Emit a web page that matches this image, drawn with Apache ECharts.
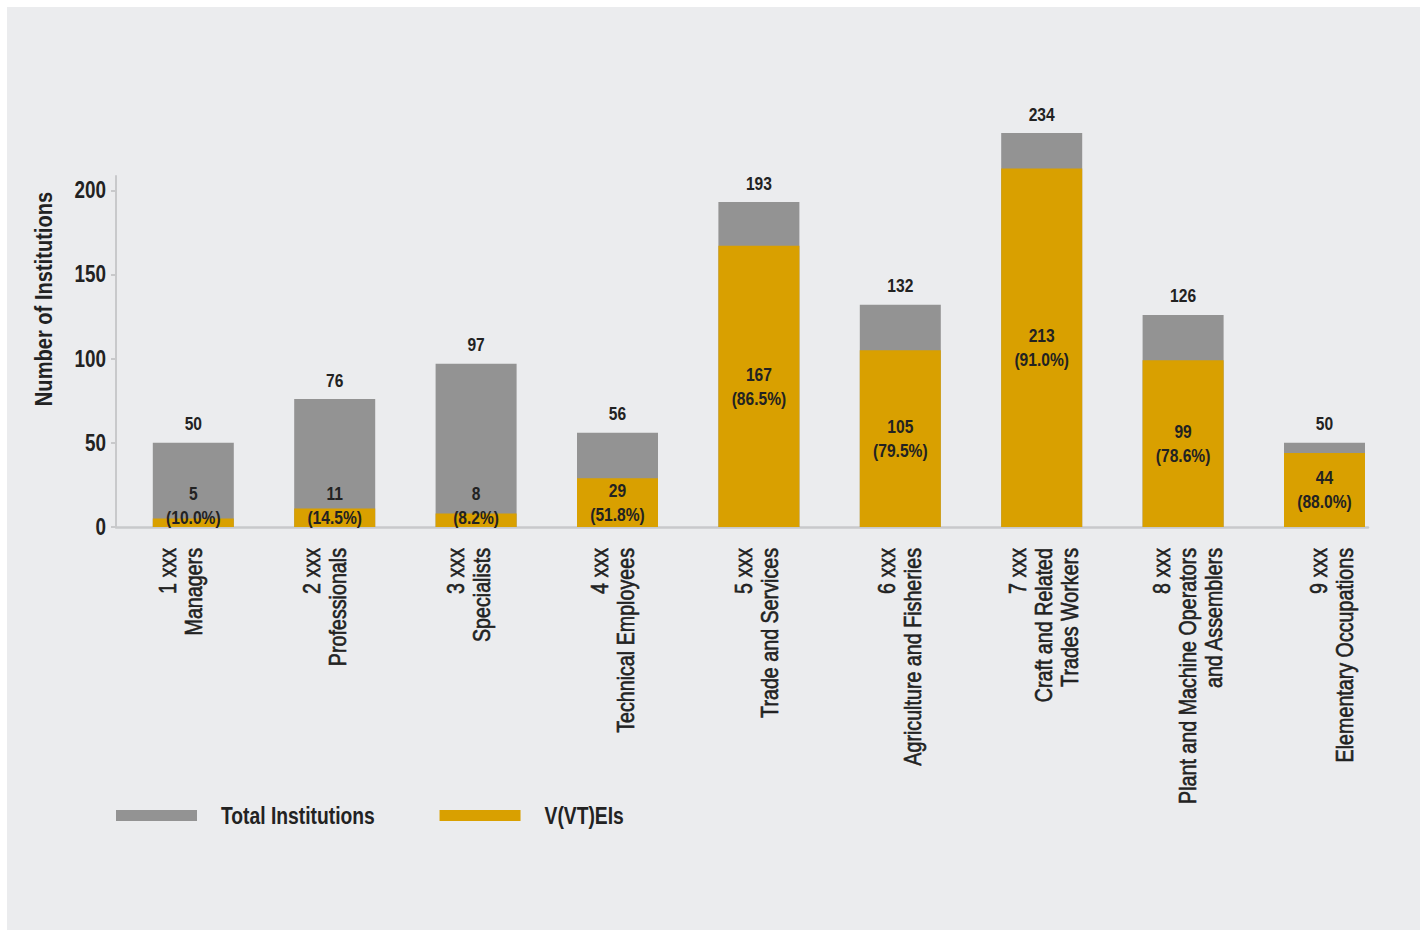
<!DOCTYPE html>
<html>
<head>
<meta charset="utf-8">
<script src="https://cdn.jsdelivr.net/npm/echarts@6/dist/echarts.min.js"></script>
<style>
  html, body { margin: 0; padding: 0; background: #ffffff; }
  #chart { position: absolute; left: 7px; top: 7px; width: 1413px; height: 923px; background: #EBECEE; }
</style>
</head>
<body>
<div id="chart"></div>
<script>
// Occupation groups (major groups of the classification)
const categories = [
  '1 xxx\nManagers',
  '2 xxx\nProfessionals',
  '3 xxx\nSpecialists',
  '4 xxx\nTechnical Employees',
  '5 xxx\nTrade and Services',
  '6 xxx\nAgriculture and Fisheries',
  '7 xxx\nCraft and Related\nTrades Workers',
  '8 xxx\nPlant and Machine Operators\nand Assemblers',
  '9 xxx\nElementary Occupations'
];
// Number of institutions offering training for each group
const totalInstitutions = [50, 76, 97, 56, 193, 132, 234, 126, 50];
// Of which V(VT)EIs
const vvtEIs = [5, 11, 8, 29, 167, 105, 213, 99, 44];
// Share of V(VT)EIs in the total, in percent
const vvtShares = ['10.0', '14.5', '8.2', '51.8', '86.5', '79.5', '91.0', '78.6', '88.0'];
// Value axis tick labels
const yTicks = [0, 50, 100, 150, 200];

const FONT = '"Liberation Sans", Arial, sans-serif';
const NARROW = 0.82;           // horizontal condensing of all text (narrow face)
const INK = '#222222';
const AXIS_COLOR = '#C8C9CB';
const GREY = '#939393';
const GOLD = '#D9A000';

const chart = echarts.init(document.getElementById('chart'), null, { renderer: 'svg' });
const H = chart.getHeight();

// All grids share the same baseline and the same pixels-per-unit scale;
// the axis grid stops a little above 200, the bar grid leaves room for the tallest bar.
const PLOT_BOTTOM = 403;
const AXIS_TOP = 169;
const AXIS_MAX = 208.5;
const BAR_MAX = 250;
const axisHeight = H - PLOT_BOTTOM - AXIS_TOP;
const barTop = H - PLOT_BOTTOM - axisHeight * BAR_MAX / AXIS_MAX;

const valueLabel = {
  fontFamily: FONT,
  fontSize: 19,
  fontWeight: 'bold',
  color: INK,
  lineHeight: 24
};

// Squeeze every rendered text run to a narrow width
function condenseText() {
  document.querySelectorAll('#chart svg text').forEach(t => {
    if (t.getAttribute('lengthAdjust') === 'spacingAndGlyphs') return;
    const w = t.getComputedTextLength();
    if (w > 0) {
      t.setAttribute('textLength', (w * NARROW).toFixed(2));
      t.setAttribute('lengthAdjust', 'spacingAndGlyphs');
    }
  });
}
chart.on('finished', condenseText);

const hiddenAxis = {
  axisLine: { show: false }, axisTick: { show: false },
  axisLabel: { show: false }, splitLine: { show: false }
};

chart.setOption({
  animation: false,
  textStyle: { fontFamily: FONT },
  grid: [
    // axis frame
    { left: 109, right: 52, top: AXIS_TOP, bottom: PLOT_BOTTOM, outerBoundsMode: 'none', containLabel: false },
    // bars
    { left: 115.6, right: 24.8, top: barTop, bottom: PLOT_BOTTOM, outerBoundsMode: 'none', containLabel: false },
    // category captions
    { left: 101.3, right: 16.2, top: AXIS_TOP, bottom: PLOT_BOTTOM, outerBoundsMode: 'none', containLabel: false }
  ],
  xAxis: [
    Object.assign({}, hiddenAxis, {
      gridIndex: 0, type: 'value', min: 0, max: 1,
      axisLine: { show: true, onZero: false, lineStyle: { color: AXIS_COLOR, width: 2.5 } }
    }),
    Object.assign({}, hiddenAxis, { gridIndex: 1, type: 'category', data: categories }),
    Object.assign({}, hiddenAxis, {
      gridIndex: 2, type: 'category', data: categories,
      axisLabel: {
        show: true, rotate: 90, margin: 21, interval: 0,
        fontFamily: FONT, fontSize: 24, fontWeight: 'normal', color: INK, lineHeight: 26,
        textBorderColor: INK, textBorderWidth: 0.6
      }
    })
  ],
  yAxis: [
    {
      gridIndex: 0, type: 'value', min: 0, max: AXIS_MAX,
      axisLine: { show: true, onZero: false, lineStyle: { color: AXIS_COLOR, width: 2 } },
      axisTick: { show: true, length: 5, customValues: yTicks, lineStyle: { color: AXIS_COLOR, width: 2 } },
      axisLabel: {
        customValues: yTicks, margin: 10,
        fontFamily: FONT, fontSize: 23, fontWeight: 'bold', color: INK
      },
      splitLine: { show: false },
      name: 'Number of Institutions',
      nameLocation: 'middle',
      nameGap: 60,
      nameTextStyle: {
        fontFamily: FONT, fontSize: 24.5, fontWeight: 'bold', color: INK,
        padding: [0, 0, 0, 105]
      }
    },
    Object.assign({}, hiddenAxis, { gridIndex: 1, type: 'value', min: 0, max: BAR_MAX }),
    Object.assign({}, hiddenAxis, { gridIndex: 2, type: 'value', min: 0, max: AXIS_MAX })
  ],
  legend: {
    left: 109, top: 796.5, padding: 0,
    icon: 'rect', itemWidth: 81, itemHeight: 11, itemGap: 31,
    textStyle: {
      fontFamily: FONT, fontSize: 23.5, fontWeight: 'bold', color: INK,
      padding: [0, 0, 0, 19]
    },
    data: ['Total Institutions', 'V(VT)EIs']
  },
  series: [
    {
      name: 'Total Institutions', type: 'bar',
      xAxisIndex: 1, yAxisIndex: 1,
      data: totalInstitutions,
      barWidth: 81, barGap: '-100%',
      itemStyle: { color: GREY },
      label: Object.assign({ show: true, position: 'top', distance: 7 }, valueLabel),
      emphasis: { disabled: true }
    },
    {
      name: 'V(VT)EIs', type: 'bar',
      xAxisIndex: 1, yAxisIndex: 1,
      data: vvtEIs.map(v => ({
        value: v,
        label: { position: v < 20 ? 'insideBottom' : 'inside', distance: -2 }
      })),
      barWidth: 81, barGap: '-100%',
      itemStyle: { color: GOLD },
      label: Object.assign({
        show: true,
        formatter: p => p.value + '\n(' + vvtShares[p.dataIndex] + '%)'
      }, valueLabel),
      emphasis: { disabled: true }
    }
  ]
});
condenseText();
</script>
</body>
</html>
